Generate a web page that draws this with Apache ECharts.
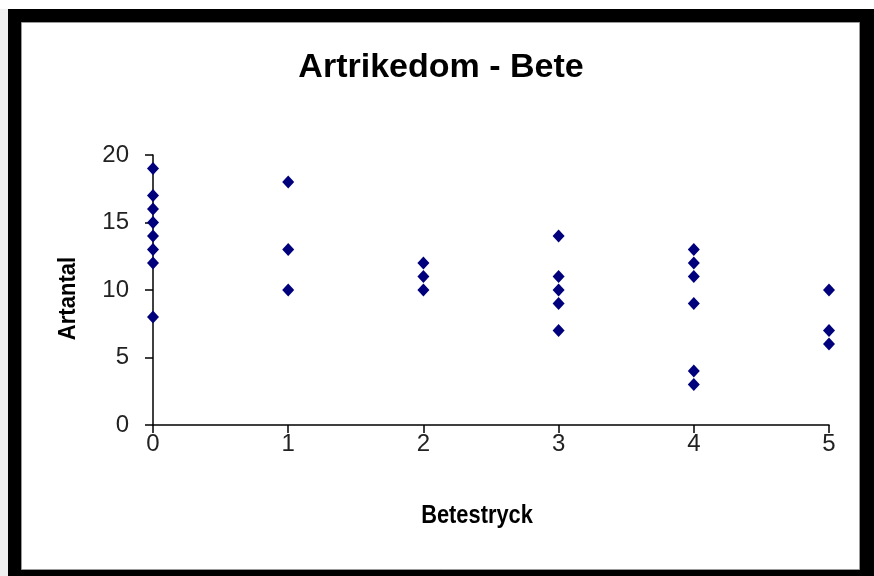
<!DOCTYPE html>
<html>
<head>
<meta charset="utf-8">
<script src="https://cdn.jsdelivr.net/npm/echarts@6/dist/echarts.min.js"></script>
<style>
html,body{margin:0;padding:0;background:#fff;}
#chart{width:874px;height:576px;}
</style>
</head>
<body>
<div id="chart"></div>
<script>
var titleText = 'Artrikedom - Bete';
var xAxisName = 'Betestryck';
var yAxisName = 'Artantal';
var xTicks = [0, 1, 2, 3, 4, 5];
var yTicks = [0, 5, 10, 15, 20];
var betestryck = [0,0,0,0,0,0,0,0, 1,1,1, 2,2,2, 3,3,3,3,3, 4,4,4,4,4,4, 5,5,5];
var artantal   = [19,17,16,15,14,13,12,8, 18,13,10, 12,11,10, 14,11,10,9,7, 13,12,11,9,4,3, 10,7,6];

var points = betestryck.map(function (x, i) { return [x, artantal[i]]; });

var chart = echarts.init(document.getElementById('chart'));
chart.setOption({
  backgroundColor: '#ffffff',
  animation: false,
  graphic: [
    { type: 'rect', z: -100, shape: { x: 0, y: 9, width: 8, height: 567 }, style: { fill: '#efefef' } },
    { type: 'rect', z: -100, shape: { x: 8, y: 9, width: 866, height: 567 }, style: { fill: '#000000' } },
    { type: 'rect', z: -99, shape: { x: 21.5, y: 22.5, width: 838, height: 547 }, style: { fill: '#ffffff', stroke: '#9a9a9a', lineWidth: 1 } },
    { type: 'text', z: 10, x: 477, y: 516, scaleX: 0.84,
      style: { text: xAxisName, fill: '#000', font: 'bold 26px "Liberation Sans", Arial, sans-serif', textAlign: 'center', textVerticalAlign: 'middle' } },
    { type: 'text', z: 10, x: 68.5, y: 298.5, rotation: Math.PI / 2, scaleX: 0.92,
      style: { text: yAxisName, fill: '#000', font: 'bold 24px "Liberation Sans", Arial, sans-serif', textAlign: 'center', textVerticalAlign: 'middle' } }
  ],
  title: {
    text: titleText,
    left: 436,
    textAlign: 'center',
    top: 46,
    textStyle: { fontFamily: 'Liberation Sans, Arial, sans-serif', fontWeight: 'bold', fontSize: 34, color: '#000' }
  },
  grid: { left: 153, right: 45, top: 155, bottom: 151, containLabel: false },
  xAxis: {
    type: 'value',
    min: xTicks[0], max: xTicks[xTicks.length - 1], interval: 1,
    axisLine: { show: true, onZero: false, lineStyle: { color: '#000', width: 1.5 } },
    axisTick: { show: true, length: 8, inside: false, lineStyle: { color: '#000', width: 1.5 } },
    axisLabel: { margin: 7, fontFamily: 'Liberation Sans, Arial, sans-serif', fontSize: 24, color: '#222',
      formatter: function (v) { return xTicks.indexOf(v) >= 0 ? String(v) : ''; } },
    splitLine: { show: false }
  },
  yAxis: {
    type: 'value',
    min: yTicks[0], max: yTicks[yTicks.length - 1], interval: 5,
    axisLine: { show: true, onZero: false, lineStyle: { color: '#000', width: 1.5 } },
    axisTick: { show: true, length: 8, inside: false, lineStyle: { color: '#000', width: 1.5 } },
    axisLabel: { margin: 24, fontFamily: 'Liberation Sans, Arial, sans-serif', fontSize: 24, color: '#222',
      formatter: function (v) { return yTicks.indexOf(v) >= 0 ? String(v) : ''; } },
    splitLine: { show: false }
  },
  series: [{
    type: 'scatter',
    data: points,
    symbol: 'diamond',
    symbolSize: [12, 13],
    itemStyle: { color: '#00007c', opacity: 1 },
    clip: false
  }]
});
</script>
</body>
</html>
